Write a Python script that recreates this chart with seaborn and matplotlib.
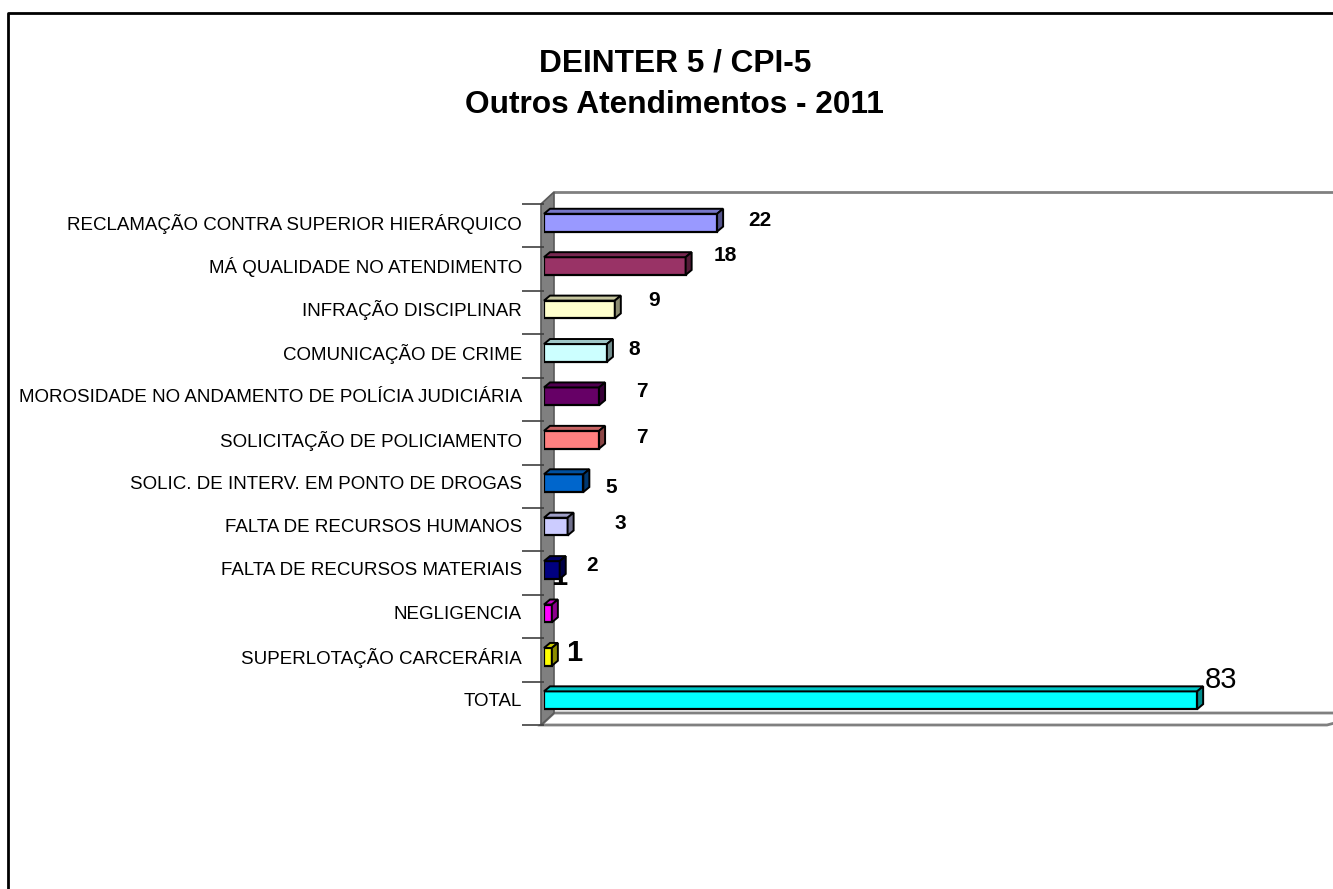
import numpy as np
import pandas as pd
import matplotlib
matplotlib.use("Agg")
import matplotlib.pyplot as plt
import matplotlib.colors as mcolors
import matplotlib.transforms as mtransforms
from matplotlib.patches import Polygon
from matplotlib.lines import Line2D
import seaborn as sns

# ---------------- data ----------------
categories = [
    "RECLAMAÇÃO CONTRA SUPERIOR HIERÁRQUICO",
    "MÁ QUALIDADE NO ATENDIMENTO",
    "INFRAÇÃO DISCIPLINAR",
    "COMUNICAÇÃO DE CRIME",
    "MOROSIDADE NO ANDAMENTO DE POLÍCIA JUDICIÁRIA",
    "SOLICITAÇÃO DE POLICIAMENTO",
    "SOLIC. DE INTERV. EM PONTO DE DROGAS",
    "FALTA DE RECURSOS HUMANOS",
    "FALTA DE RECURSOS MATERIAIS",
    "NEGLIGENCIA",
    "SUPERLOTAÇÃO CARCERÁRIA",
    "TOTAL",
]
values = [22, 18, 9, 8, 7, 7, 5, 3, 2, 1, 1, 83]
colors = ["#9999FF", "#993366", "#FFFFCC", "#CCFFFF", "#660066", "#FF8080",
          "#0066CC", "#CCCCFF", "#000080", "#FF00FF", "#FFFF00", "#00FFFF"]
title_lines = ["DEINTER 5 / CPI-5", "Outros Atendimentos - 2011"]

# ---------------- style ----------------
sns.set_theme(style="white")
plt.rcParams['font.family'] = ['Liberation Sans', 'DejaVu Sans']
plt.rcParams['text.color'] = 'black'
plt.rcParams['ytick.color'] = 'black'

W, H, DPI = 1333, 889, 100
fig = plt.figure(figsize=(W / DPI, H / DPI), dpi=DPI)
fig.patch.set_facecolor("white")

# axes placement in pixels (top-left origin)
ax_l, ax_r, ax_t, ax_b = 544, 1327, 204, 725
ax = fig.add_axes([ax_l / W, 1 - ax_b / H, (ax_r - ax_l) / W, (ax_b - ax_t) / H])
ax.set_facecolor("none")

df = pd.DataFrame({"categoria": categories, "valor": values})
sns.barplot(data=df, y="categoria", x="valor", hue="categoria", palette=colors,
            legend=False, orient="h", width=0.41, edgecolor="black",
            linewidth=1.6, saturation=1, ax=ax, zorder=3)

ax.set_xlim(0, 99.5)
ax.set_ylim(len(categories) - 0.5, -0.5)
for s in ax.spines.values():
    s.set_visible(False)
ax.set_xlabel("")
ax.set_ylabel("")
ax.set_xticks([])
ax.set_yticks(range(len(categories)))
ax.set_yticklabels(categories, fontsize=13.5, color="black")
ax.set_yticks(np.arange(-0.5, len(categories), 1), minor=True)
ax.tick_params(axis="y", which="major", length=0, pad=16)
ax.tick_params(axis="y", which="minor", length=16, width=1.2, color="#404040", left=True)
lift = mtransforms.ScaledTranslation(0, 3 / 72, fig.dpi_scale_trans)
for lab in ax.get_yticklabels():
    lab.set_transform(lab.get_transform() + lift)

# lift bars slightly, as in the 3-D projection
for p in ax.patches:
    p.set_y(p.get_y() - 0.07)
bar_patches = list(ax.patches[:len(values)])

inv = fig.transFigure.inverted()


def shade(c, f):
    r, g, b = mcolors.to_rgb(c)
    return (r * f, g * f, b * f)


def pix(pts):
    """pixel coords (top-left origin) -> figure fraction"""
    return [(x / W, 1 - y / H) for x, y in pts]


# ---------- 3-D walls (behind the bars) ----------
wdx, wdy = 13, 12
wx = ax_l - 3
wall = [(wx, ax_t), (wx + wdx, ax_t - wdy), (wx + wdx, ax_b - wdy), (wx, ax_b)]
ax.add_patch(Polygon(pix(wall), closed=True, transform=fig.transFigure,
                     facecolor="#808080", edgecolor="#5a5a5a", lw=1.2, zorder=0.5, clip_on=False))
floor = [(wx, ax_b), (wx + wdx, ax_b - wdy), (W + 40, ax_b - wdy), (ax_r, ax_b)]
ax.add_patch(Polygon(pix(floor), closed=True, transform=fig.transFigure,
                     facecolor="white", edgecolor="#808080", lw=2, zorder=0.4, clip_on=False))
ax.add_line(Line2D(*zip(*pix([(wx + wdx, ax_t - wdy), (W + 5, ax_t - wdy)])),
                   transform=fig.transFigure, color="#808080", lw=2, zorder=0.4, clip_on=False))

# ---------- 3-D bar faces ----------
dx, dy = 6, 5
for p, c in zip(bar_patches, colors):
    x0, y0, w, h = p.get_x(), p.get_y(), p.get_width(), p.get_height()
    (X0, Ya), (X1, Yb) = ax.transData.transform([(x0, y0), (x0 + w, y0 + h)])
    Yt, Yb_ = max(Ya, Yb), min(Ya, Yb)
    top = [(X0, Yt), (X1, Yt), (X1 + dx, Yt + dy), (X0 + dx, Yt + dy)]
    side = [(X1, Yb_), (X1, Yt), (X1 + dx, Yt + dy), (X1 + dx, Yb_ + dy)]
    for poly, f in ((top, 0.78), (side, 0.55)):
        ax.add_patch(Polygon(inv.transform(poly), closed=True, transform=fig.transFigure,
                             facecolor=shade(c, f), edgecolor="black", lw=1.4,
                             zorder=3, clip_on=False))

# ---------- value labels ----------
nudge_x = [5.4, 5.0, 5.0, 3.4, 5.45, 5.45, 3.6, 6.66, 4.1, 0.9, 2.8, 3.0]
nudge_y = [-0.11, -0.32, -0.27, -0.16, -0.17, -0.13, 0.02, -0.13, -0.18, -0.9, -0.16, -0.53]
sizes = [15] * 9 + [21, 21, 21]
weights = ["bold"] * 11 + ["normal"]
for i, v in enumerate(values):
    ax.text(v + nudge_x[i], i + nudge_y[i], str(v), ha="center", va="center",
            fontsize=sizes[i], fontweight=weights[i], color="black",
            zorder=2 if i == 9 else 6, clip_on=False)

# ---------- title ----------
fig.text(675 / W, 1 - 71 / H, title_lines[0], ha="center", va="baseline",
         fontsize=22.8, fontweight="bold", color="black")
fig.text(674 / W, 1 - 113 / H, title_lines[1], ha="center", va="baseline",
         fontsize=22.8, fontweight="bold", color="black")

# ---------- outer frame ----------
fig.add_artist(Line2D(*zip(*pix([(8, H + 5), (8, 13), (W + 5, 13)])),
                      transform=fig.transFigure, color="black", lw=2, zorder=0))

fig.savefig("out.png", dpi=DPI, facecolor="white")
